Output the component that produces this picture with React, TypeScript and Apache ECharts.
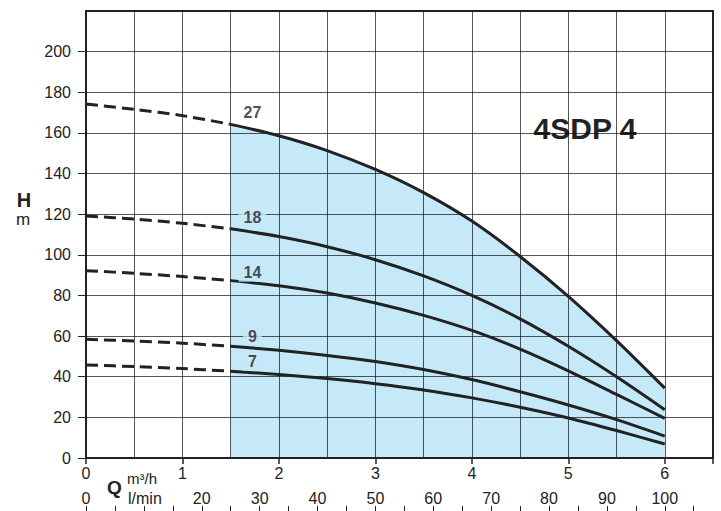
import React, { useEffect, useRef } from "react";
import * as echarts from "echarts";

const FONT = "'Liberation Sans', Arial, Helvetica, sans-serif";
const INK = "#222";
const FILL = "#c6e9f9";
const GRIDC = "rgba(0, 0, 0, 0.66)";

// Flow (m³/h) sample points
const flowQ = [0, 0.5, 1, 1.5, 2, 2.5, 3, 3.5, 4, 4.5, 5, 5.5, 6];
const dutyStart = 1.5;
// Head (m) per stage count
const head27 = [174.2, 171.6, 168.5, 164.2, 158.6, 151.3, 142, 130.6, 116.6, 99.2, 79.6, 57.8, 34.4];
const head18 = [119.1, 117.6, 115.5, 112.8, 109, 104, 97.6, 89.6, 80, 68.5, 55, 40, 23.8];
const head14 = [92.2, 90.9, 89.3, 87.3, 84.8, 81.2, 76.3, 70.2, 62.8, 53.6, 42.9, 31.3, 19.5];
const head9 = [58.4, 57.6, 56.5, 55, 53, 50.5, 47.5, 43.6, 38.6, 32.6, 26.1, 18.9, 10.8];
const head7 = [45.8, 45, 44, 42.7, 41.1, 39.1, 36.6, 33.5, 29.6, 25, 19.7, 13.5, 6.9];

const curveNames = ["27", "18", "14", "9", "7"];
const curveHeads = [head27, head18, head14, head9, head7];
const labelQ = [1.725, 1.725, 1.725, 1.725, 1.725];
const labelH = [169.8, 118.5, 91.2, 60, 47.4];

// Axes
const qMax = 6.5;
const hMax = 220;
const qLabels = [0, 1, 2, 3, 4, 5, 6];
const qTicks = [0, 1, 2, 3, 4, 5, 6, 6.5];
const hTicks = [0, 20, 40, 60, 80, 100, 120, 140, 160, 180, 200];
const gridQ = [0.5, 1, 1.5, 2, 2.5, 3, 3.5, 4, 4.5, 5, 5.5, 6];
const gridH = [20, 40, 60, 80, 100, 120, 140, 160, 180, 200];
const lminLabels = [0, 20, 30, 40, 50, 60, 70, 80, 90, 100];
const lminTicks = [0, 5, 10, 15, 20, 25, 30, 35, 40, 45, 50, 55, 60, 65, 70, 75, 80, 85, 90, 95, 100, 105];
const lminPerQ = 100 / 6;

const title = "4SDP 4";

export default function App() {
  const ref = useRef<HTMLDivElement>(null);
  useEffect(() => {
    if (!ref.current) return;
    const chart = echarts.init(ref.current, undefined, { renderer: "svg" });
    const dashedPart = (h: number[]) =>
      flowQ.map((q, i) => [q, h[i]]).filter((p) => p[0] <= dutyStart);
    const solidPart = (h: number[]) =>
      flowQ.map((q, i) => [q, h[i]]).filter((p) => p[0] >= dutyStart);

    const SMOOTH = 0.3;
    const series: any[] = [];
    // operating range fill
    series.push({
      type: "line",
      data: solidPart(head27),
      smooth: SMOOTH,
      symbol: "none",
      lineStyle: { width: 0 },
      areaStyle: { color: FILL, opacity: 1 },
      z: 1,
      silent: true,
    });
    // grid lines drawn above the fill
    series.push({
      type: "line",
      data: [],
      symbol: "none",
      z: 2,
      silent: true,
      markLine: {
        silent: true,
        symbol: "none",
        animation: false,
        label: { show: false },
        lineStyle: { color: GRIDC, width: 1, type: "solid" },
        data: [
          ...gridQ.map((q) => ({ xAxis: q })),
          ...gridH.map((h) => ({ yAxis: h })),
          { yAxis: 0, lineStyle: { color: INK, width: 2, type: "solid" } },
        ],
      },
    });
    curveHeads.forEach((h) => {
      series.push({
        type: "line",
        data: dashedPart(h),
        smooth: SMOOTH,
        symbol: "none",
        lineStyle: { width: 3, color: INK, type: [12, 6] },
        z: 5,
        silent: true,
      });
      series.push({
        type: "line",
        data: solidPart(h),
        smooth: SMOOTH,
        symbol: "none",
        lineStyle: { width: 3, color: INK },
        z: 5,
        silent: true,
      });
    });
    series.push({
      type: "scatter",
      symbolSize: 0,
      z: 6,
      silent: true,
      data: curveNames.map((n, i) => ({
        value: [labelQ[i], labelH[i]],
        name: n,
        label: i === 0 ? {} : { backgroundColor: FILL },
      })),
      label: {
        show: true,
        position: "inside",
        formatter: (p: any) => p.name,
        fontFamily: FONT,
        fontWeight: "bold",
        fontSize: 16,
        color: INK,
        padding: [1, 5],
      },
    });

    const labelStyle = { fontFamily: FONT, fontSize: 16, color: INK };

    chart.setOption({
      animation: false,
      grid: {
        left: 86,
        top: 11,
        right: 8,
        bottom: 53,
        show: true,
        borderColor: INK,
        borderWidth: 2,
        backgroundColor: "transparent",
      },
      xAxis: [
        {
          type: "value",
          min: 0,
          max: qMax,
          interval: 1,
          position: "bottom",
          axisLine: { show: false },
          axisTick: { show: true, length: 6, customValues: qTicks, lineStyle: { color: INK, width: 1.5 } },
          axisLabel: { ...labelStyle, customValues: qLabels, margin: 7 },
          splitLine: { show: false },
        },
        {
          type: "value",
          min: 0,
          max: qMax * lminPerQ,
          position: "bottom",
          offset: 25,
          axisLine: { show: false },
          axisTick: { show: false },
          axisLabel: { ...labelStyle, customValues: lminLabels, margin: 7 },
          splitLine: { show: false },
        },
        {
          type: "value",
          min: 0,
          max: qMax * lminPerQ,
          position: "bottom",
          offset: 53,
          axisLine: { show: false },
          axisTick: { show: true, inside: true, length: 5, customValues: lminTicks, lineStyle: { color: INK, width: 1 } },
          axisLabel: { show: false },
          splitLine: { show: false },
        },
      ],
      yAxis: {
        type: "value",
        min: 0,
        max: hMax,
        interval: 20,
        axisLine: { show: false },
        axisTick: { show: true, length: 8, customValues: hTicks, lineStyle: { color: INK, width: 1 } },
        axisLabel: { ...labelStyle, customValues: hTicks, margin: 15 },
        splitLine: { show: false },
      },
      graphic: [
        {
          type: "group",
          z: 10,
          children: [
            { type: "rect", shape: { x: 522, y: 107, width: 137, height: 40 }, style: { fill: "#fff" } },
            {
              type: "text",
              x: 585,
              y: 128,
              style: {
                text: title,
                fill: INK,
                font: `bold 30px ${FONT}`,
                textAlign: "center",
                textVerticalAlign: "middle",
              },
            },
            {
              type: "text",
              x: 24,
              y: 200,
              style: { text: "H", fill: INK, font: `bold 20px ${FONT}`, textAlign: "center", textVerticalAlign: "middle" },
            },
            {
              type: "text",
              x: 23,
              y: 219.5,
              style: { text: "m", fill: INK, font: `17px ${FONT}`, textAlign: "center", textVerticalAlign: "middle" },
            },
            {
              type: "text",
              x: 114.5,
              y: 487,
              style: { text: "Q", fill: INK, font: `bold 19px ${FONT}`, textAlign: "center", textVerticalAlign: "middle" },
            },
            {
              type: "text",
              x: 127,
              y: 478,
              style: { text: "m³/h", fill: INK, font: `15px ${FONT}`, textAlign: "left", textVerticalAlign: "middle" },
            },
            {
              type: "text",
              x: 128,
              y: 498,
              style: { text: "l/min", fill: INK, font: `16px ${FONT}`, textAlign: "left", textVerticalAlign: "middle" },
            },
          ],
        },
      ],
      series,
    });
    return () => chart.dispose();
  }, []);
  return (
    <div
      ref={ref}
      style={{ position: "fixed", left: 0, top: 0, width: 721, height: 511, background: "#fff" }}
    />
  );
}
